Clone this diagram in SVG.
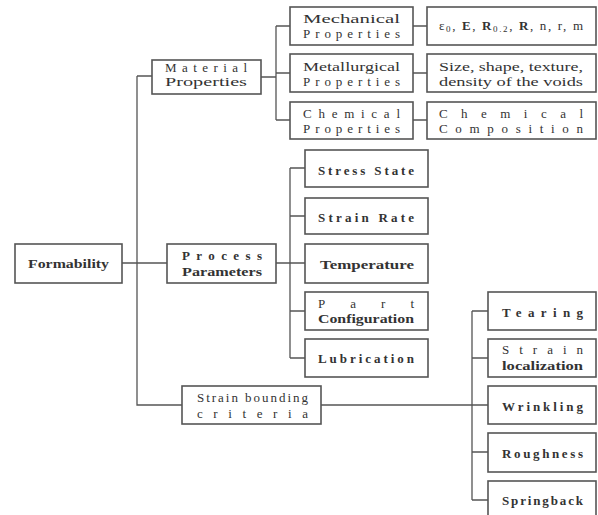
<svg xmlns="http://www.w3.org/2000/svg" width="598" height="515" viewBox="0 0 598 515" font-family="'Liberation Serif', 'DejaVu Serif', serif">
<style>
.box{fill:#fff;stroke:#555;stroke-width:1.6}
.c{fill:none;stroke:#555;stroke-width:1.3}
text{font-family:'Liberation Serif','DejaVu Serif',serif;font-size:13px;fill:#333}
.b{font-weight:bold}
</style>
<rect width="598" height="515" fill="#fff"/>
<g id="connectors">
<path class="c" d="M122 263H167M137 76V405H182M137 76H152"/>
<path class="c" d="M261 77H276M276 26V120M276 26H290M276 73H290M276 120H290"/>
<path class="c" d="M413 26H427M413 73H427M413 120H427"/>
<path class="c" d="M276 263H305M290 168V358M290 168H305M290 216H305M290 311H305M290 358H305"/>
<path class="c" d="M321 405H488M472 311V500M472 311H488M472 358H488M472 452H488M472 500H488"/>
</g>
<g id="formability"><rect class="box" x="15" y="244" width="107" height="39"/><text class="b" x="28" y="268" textLength="81" lengthAdjust="spacingAndGlyphs">Formability</text></g>
<g id="material"><rect class="box" x="152" y="60" width="109" height="34"/><text x="165" y="72" textLength="82" lengthAdjust="spacing">Material</text><text x="165" y="86" textLength="82" lengthAdjust="spacingAndGlyphs">Properties</text></g>
<g id="mechanical"><rect class="box" x="290" y="7" width="123" height="38"/><text x="303" y="23" textLength="97" lengthAdjust="spacingAndGlyphs">Mechanical</text><text x="303" y="38" textLength="97" lengthAdjust="spacing">Properties</text></g>
<g id="metallurgical"><rect class="box" x="290" y="54" width="123" height="38"/><text x="303" y="71" textLength="97" lengthAdjust="spacingAndGlyphs">Metallurgical</text><text x="303" y="86" textLength="97" lengthAdjust="spacing">Properties</text></g>
<g id="chemical"><rect class="box" x="290" y="102" width="123" height="37"/><text x="303" y="118" textLength="97" lengthAdjust="spacing">Chemical</text><text x="303" y="133" textLength="97" lengthAdjust="spacing">Properties</text></g>
<g id="mech-params"><rect class="box" x="427" y="7" width="169" height="38"/><text x="439" y="30" textLength="144" lengthAdjust="spacing">ε<tspan font-size="9" dy="2">0</tspan><tspan dy="-2">, </tspan><tspan class="b">E</tspan>, <tspan class="b">R</tspan><tspan font-size="9" dy="2">0.2</tspan><tspan dy="-2">, </tspan><tspan class="b">R</tspan>, n, r, m</text></g>
<g id="voids"><rect class="box" x="427" y="54" width="169" height="38"/><text x="439" y="71" textLength="144" lengthAdjust="spacingAndGlyphs">Size, shape, texture,</text><text x="439" y="86" textLength="144" lengthAdjust="spacingAndGlyphs">density of the voids</text></g>
<g id="composition"><rect class="box" x="427" y="102" width="169" height="37"/><text x="439" y="118" textLength="144" lengthAdjust="spacing">Chemical</text><text x="439" y="133" textLength="144" lengthAdjust="spacing">Composition</text></g>
<g id="process"><rect class="box" x="167" y="244" width="109" height="39"/><text class="b" x="182" y="260" textLength="80" lengthAdjust="spacing">Process</text><text class="b" x="182" y="276" textLength="80" lengthAdjust="spacingAndGlyphs">Parameters</text></g>
<g id="stress"><rect class="box" x="305" y="150" width="123" height="37"/><text class="b" x="318" y="175" textLength="96" lengthAdjust="spacing">Stress State</text></g>
<g id="strainrate"><rect class="box" x="305" y="198" width="123" height="36"/><text class="b" x="318" y="222" textLength="96" lengthAdjust="spacing">Strain Rate</text></g>
<g id="temperature"><rect class="box" x="305" y="244" width="123" height="39"/><text class="b" x="320" y="269" textLength="94" lengthAdjust="spacingAndGlyphs">Temperature</text></g>
<g id="part"><rect class="box" x="305" y="292" width="123" height="38"/><text x="318" y="308" textLength="96" lengthAdjust="spacing">Part</text><text class="b" x="318" y="323" textLength="96" lengthAdjust="spacingAndGlyphs">Configuration</text></g>
<g id="lubrication"><rect class="box" x="305" y="339" width="123" height="38"/><text class="b" x="318" y="363" textLength="96" lengthAdjust="spacing">Lubrication</text></g>
<g id="strainbounding"><rect class="box" x="182" y="386" width="139" height="38"/><text x="197" y="402" textLength="111" lengthAdjust="spacing">Strain bounding</text><text x="197" y="418" textLength="111" lengthAdjust="spacing">criteria</text></g>
<g id="tearing"><rect class="box" x="488" y="292" width="108" height="38"/><text class="b" x="502" y="317" textLength="81" lengthAdjust="spacing">Tearing</text></g>
<g id="localization"><rect class="box" x="488" y="339" width="108" height="38"/><text x="502" y="354" textLength="81" lengthAdjust="spacing">Strain</text><text class="b" x="502" y="370" textLength="81" lengthAdjust="spacingAndGlyphs">localization</text></g>
<g id="wrinkling"><rect class="box" x="488" y="386" width="108" height="38"/><text class="b" x="502" y="411" textLength="81" lengthAdjust="spacing">Wrinkling</text></g>
<g id="roughness"><rect class="box" x="488" y="433" width="108" height="39"/><text class="b" x="502" y="458" textLength="81" lengthAdjust="spacing">Roughness</text></g>
<g id="springback"><rect class="box" x="488" y="481" width="108" height="40"/><text class="b" x="502" y="505" textLength="81" lengthAdjust="spacing">Springback</text></g>
</svg>
